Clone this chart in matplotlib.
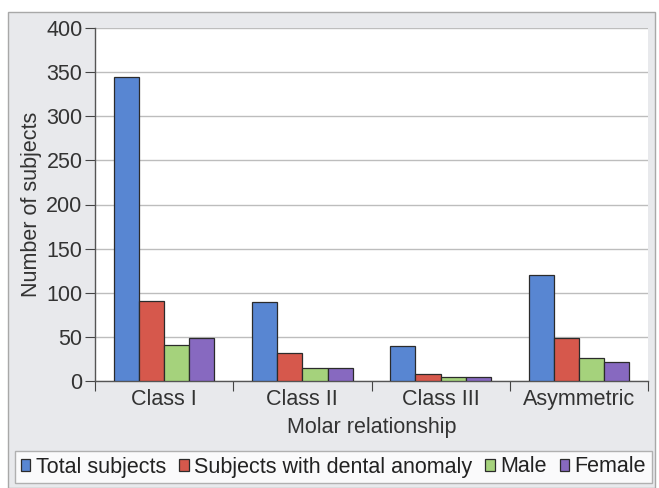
import matplotlib
matplotlib.use("Agg")
import matplotlib.pyplot as plt
import numpy as np
from matplotlib.patches import Rectangle

plt.rcParams['font.family'] = ['Liberation Sans', 'DejaVu Sans']

categories = ["Class I", "Class II", "Class III", "Asymmetric"]
series_names = ["Total subjects", "Subjects with dental anomaly", "Male", "Female"]
total = [345, 90, 40, 120]
anomaly = [91, 32, 8, 49]
male = [41, 15, 4, 26]
female = [49, 15, 5, 22]
series = [total, anomaly, male, female]
colors = ["#5886d2", "#d6584c", "#a5d27c", "#8769c0"]

FS = 15.5

fig = plt.figure(figsize=(6.59, 4.88), dpi=100)
fig.patch.set_facecolor("white")
# outer chart frame
fig.patches.append(Rectangle((8/659, 0), 647/659, 1 - 12/488, transform=fig.transFigure,
                             facecolor="#e8e9ec", edgecolor="#a8a8a8", lw=1.0, zorder=-10))

ax = fig.add_axes([95/659, 1 - 381/488, (648 - 95)/659, (381 - 28)/488])
ax.set_facecolor("white")

x = np.arange(len(categories))
bw = 0.182
for i, (vals, c) in enumerate(zip(series, colors)):
    ax.bar(x + (i - 1.5) * bw, vals, width=bw, color=c, edgecolor="#2b2b2b",
           linewidth=0.9, label=series_names[i], zorder=3)

ax.set_xlim(-0.5, 3.5)
ax.set_ylim(0, 400)
ax.set_yticks(np.arange(0, 401, 50))
ax.yaxis.grid(True, color="#bdbdbd", lw=1.0, zorder=0)
ax.set_axisbelow(True)

ax.set_xticks([-0.5, 0.5, 1.5, 2.5, 3.5])
ax.set_xticklabels([])
ax.set_xticks(x, minor=True)
ax.set_xticklabels(categories, minor=True, fontsize=FS, color="#333333")
ax.tick_params(axis='x', which='minor', length=0, pad=6)
ax.tick_params(axis='x', which='major', length=7, direction='out', color="#444444")
ax.tick_params(axis='y', length=7, direction='out', color="#444444", labelsize=FS,
               labelcolor="#333333", pad=2)

for s in ["top", "right"]:
    ax.spines[s].set_visible(False)
for s in ["left", "bottom"]:
    ax.spines[s].set_color("#555555")
    ax.spines[s].set_linewidth(1.0)

ax.set_ylabel("Number of subjects", fontsize=FS, color="#333333", labelpad=3)
ax.set_xlabel("Molar relationship", fontsize=FS, color="#333333", labelpad=5)

leg = fig.legend(loc="center", bbox_to_anchor=(333.5/659, 1 - 467/488), ncol=4,
                 fontsize=FS, frameon=True, fancybox=False, handlelength=0.45,
                 handleheight=0.45, handletextpad=0.25, columnspacing=0.6,
                 borderpad=0.25, borderaxespad=0, labelcolor="#222222")
leg.get_frame().set_edgecolor("#a0a0a0")
leg.get_frame().set_linewidth(1.0)

fig.savefig("out.png", dpi=100, facecolor=fig.get_facecolor())
